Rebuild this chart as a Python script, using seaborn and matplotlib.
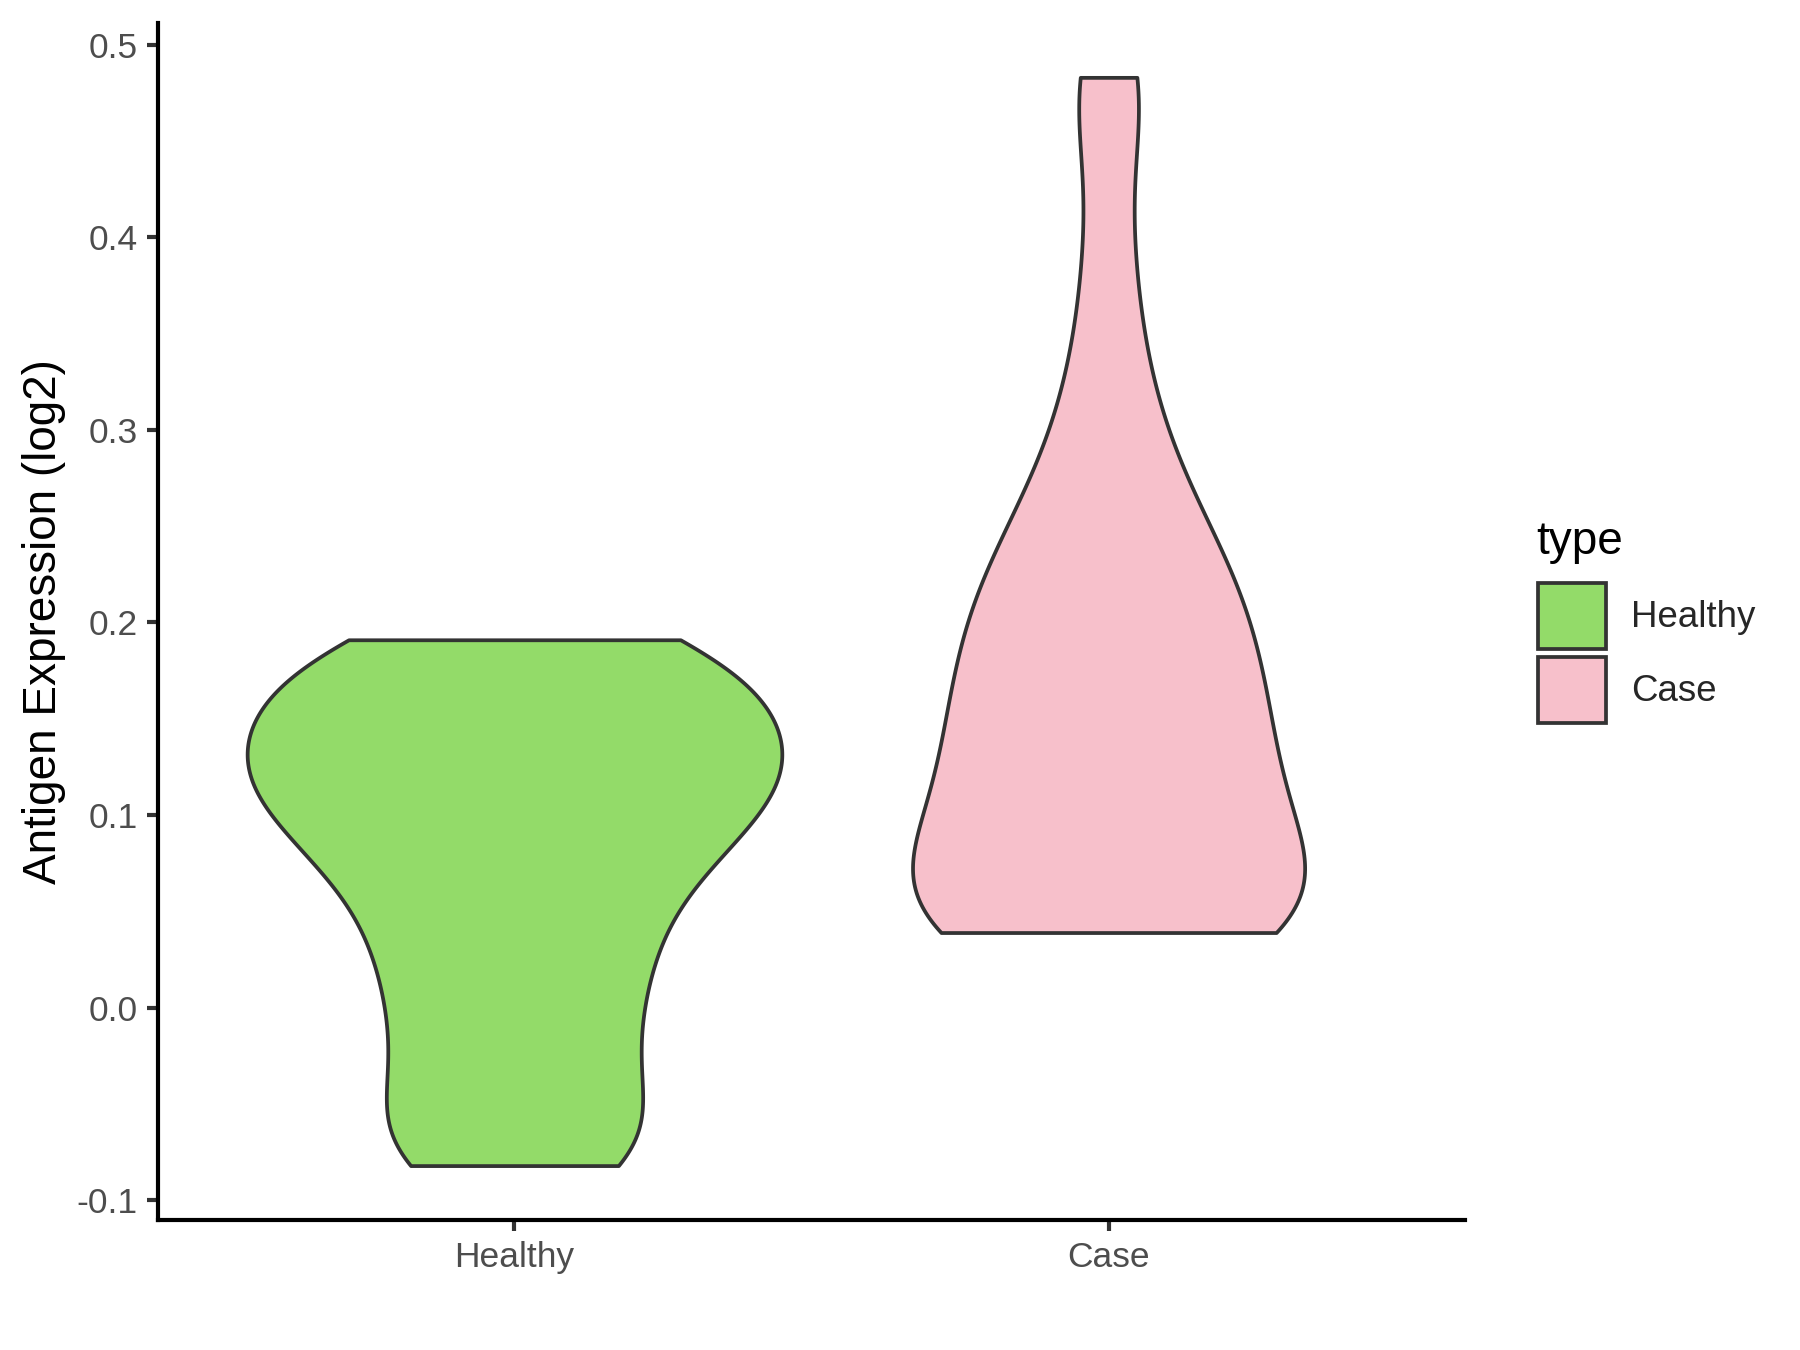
import numpy as np
import pandas as pd
import matplotlib
matplotlib.use("Agg")
import matplotlib.pyplot as plt
import seaborn as sns
from matplotlib.patches import Patch

categories = ["Healthy", "Case"]
colors = ["#93DB69", "#F7C0CB"]

healthy_values = [-0.082, -0.081, -0.072, -0.057, -0.041, -0.025, -0.009, 0.005,
                  0.019, 0.033, 0.045, 0.058, 0.070, 0.080, 0.088, 0.096, 0.103,
                  0.110, 0.116, 0.122, 0.128, 0.134, 0.140, 0.147, 0.154, 0.162,
                  0.170, 0.178, 0.185, 0.189, 0.191]
case_values = [0.039, 0.039, 0.039, 0.039, 0.040, 0.042, 0.046, 0.052, 0.059, 0.067,
               0.075, 0.083, 0.091, 0.099, 0.107, 0.115, 0.123, 0.131, 0.139, 0.147,
               0.155, 0.164, 0.173, 0.182, 0.191, 0.200, 0.209, 0.218, 0.228, 0.239,
               0.252, 0.268, 0.288, 0.314, 0.350, 0.400, 0.470, 0.483]

yticks = [-0.1, 0.0, 0.1, 0.2, 0.3, 0.4, 0.5]
ytick_labels = ["-0.1", "0.0", "0.1", "0.2", "0.3", "0.4", "0.5"]

sns.set_style("white")
plt.rcParams["font.family"] = ["Liberation Sans", "DejaVu Sans"]
plt.rcParams["axes.unicode_minus"] = False

fig = plt.figure(figsize=(6, 4.5), dpi=300)
ax = fig.add_axes([0.0878, 0.0963, 0.8139 - 0.0878, 0.983 - 0.0963])

groups = [healthy_values, case_values]
bw_sizes = [0.031, 0.040]
widths = [0.9, 0.66]
for cat, vals, col, bw, w in zip(categories, groups, colors, bw_sizes, widths):
    df = pd.DataFrame({"type": [cat] * len(vals), "value": vals})
    factor = bw / np.std(vals, ddof=1)
    sns.violinplot(data=df, x="type", y="value", order=categories, color=col,
                   saturation=1, inner=None, cut=0, bw_method=factor,
                   density_norm="width", width=w, linewidth=0.9,
                   linecolor="#333333", ax=ax, gridsize=300)

allv = healthy_values + case_values
lo, hi = min(allv), max(allv)
pad = 0.05 * (hi - lo)
ax.set_ylim(lo - pad, hi + pad)
ax.set_xlim(-0.6, 1.6)
ax.set_yticks(yticks)
ax.set_yticklabels(ytick_labels)
ax.set_xlabel("")
ax.set_ylabel("Antigen Expression (log2)", fontsize=11, color="black", labelpad=2.5)
for s in ["top", "right"]:
    ax.spines[s].set_visible(False)
for s in ["left", "bottom"]:
    ax.spines[s].set_color("black")
    ax.spines[s].set_linewidth(1.0)
ax.tick_params(axis="both", which="major", length=2.75, width=1.0, color="#333333",
               labelsize=8.5, labelcolor="#4D4D4D", pad=2.2, left=True, bottom=True)

handles = [Patch(facecolor=c, edgecolor="#333333", linewidth=0.9, label=l)
           for c, l in zip(colors, categories)]
leg = fig.legend(handles=handles, loc="upper left",
                 bbox_to_anchor=(1538 / 1800, 1 - 583 / 1350), frameon=False,
                 fontsize=8.8, handlelength=1.85, handleheight=2.4,
                 labelspacing=0.2, handletextpad=0.68,
                 borderpad=0, borderaxespad=0)
fig.text(1536 / 1800, 1 - 554 / 1350, "type", fontsize=11, color="black",
         ha="left", va="baseline")

fig.savefig("out.png", dpi=300, facecolor="white")
